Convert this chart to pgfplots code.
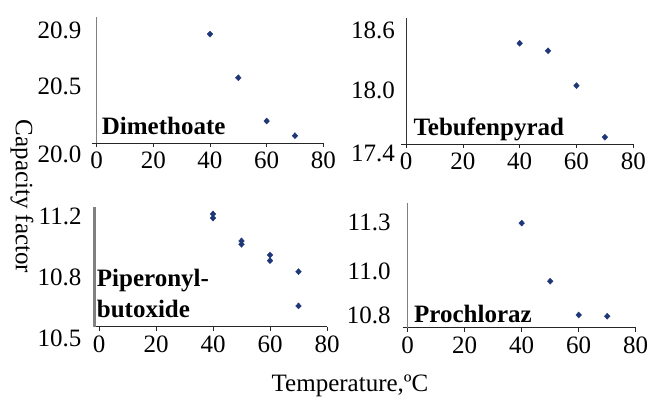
\documentclass[border=0pt]{standalone}
\usepackage{fontspec}
\setmainfont{Liberation Serif}
\usepackage{pgfplots}
\pgfplotsset{compat=1.18}
\definecolor{mk}{RGB}{30,55,120}
\definecolor{axgray}{RGB}{128,128,128}
\pgfplotsset{
  panel/.style={
    scale only axis,
    anchor=south west,
    axis x line=bottom,
    axis y line=left,
    xmin=0, xmax=80,
    xtick={0,20,40,60,80},
    tick align=outside,
    major tick length=4pt,
    ytick style={draw=none},
    xtick style={draw=black!85, line width=0.6pt},
    x axis line style={-, draw=black!85, line width=0.7pt, shorten <=-5pt},
    y axis line style={-, draw=axgray, line width=0.8pt},
    /pgf/number format/assume math mode=true,
    tick label style={font=\fontsize{25}{30}\selectfont},
    xticklabel style={inner sep=0pt, yshift=-5pt},
    yticklabel style={anchor=east, inner sep=0pt},
    clip=false,
  },
  pts/.style={only marks, mark=diamond*, mark size=3pt, color=mk, mark options={xscale=1.25}},
}
\begin{document}
\begin{tikzpicture}
\useasboundingbox (0,0) rectangle (657pt,397pt);
% Panel 1: Dimethoate
\begin{axis}[panel, at={(96.7pt,254pt)}, width=226.6pt, height=126pt,
  ymin=20.093, ymax=20.993,
  ytick={20.5,20.9}, yticklabels={20.5,20.9},
  extra y ticks={20.093}, extra y tick labels={20.0},
  extra y tick style={yticklabel style={yshift=-11pt}},
  yticklabel style={xshift=-11pt}]
\addplot[pts] coordinates {(40,20.871) (50,20.559) (60,20.25) (70,20.145)};
\end{axis}
% Panel 2: Tebufenpyrad
\begin{axis}[panel, at={(406pt,253pt)}, width=227.3pt, height=125.7pt,
  ymin=17.473, ymax=18.716,
  ytick={18.0,18.6}, yticklabels={18.0,18.6},
  extra y ticks={17.473}, extra y tick labels={17.4},
  extra y tick style={yticklabel style={yshift=-9.3pt}},
  y axis line style={-, draw=black!80, line width=0.7pt},
  yticklabel style={xshift=-7pt}]
\addplot[pts] coordinates {(40,18.469) (50,18.395) (60,18.05) (70,17.54)};
\end{axis}
% Panel 3: Piperonyl-butoxide
\begin{axis}[panel, at={(94.3pt,70.3pt)}, width=232.7pt, height=119.4pt,
  xmin=-1.65, xmax=80,
  x axis line style={-, draw=black!85, line width=0.7pt, shorten <=0pt},
  y axis line style={-, draw=axgray, line width=2.5pt},
  ymin=10.474, ymax=11.262,
  ytick={10.8,11.2}, yticklabels={10.8,11.2},
  extra y ticks={10.474}, extra y tick labels={10.5},
  extra y tick style={yticklabel style={yshift=-11.6pt}},
  yticklabel style={xshift=-8.6pt}]
\addplot[pts] coordinates {(40,11.218) (40,11.191) (50,11.04) (50,11.018) (60,10.947) (60,10.91) (70,10.837) (70,10.611)};
\end{axis}
% Panel 4: Prochloraz
\begin{axis}[panel, at={(407.7pt,69.3pt)}, width=228pt, height=124.7pt,
  ymin=10.731, ymax=11.407,
  ytick={10.8,11.035,11.3}, yticklabels={10.8,11.0,11.3},
  yticklabel style={xshift=-13pt}]
\addplot[pts] coordinates {(40,11.298) (50,10.983) (60,10.8) (70,10.793)};
\end{axis}
% Panel titles
\node[anchor=base west, inner sep=0pt, font=\fontsize{25}{30}\selectfont\bfseries] at (101.7pt,262pt) {Dimethoate};
\node[anchor=base west, inner sep=0pt, font=\fontsize{25}{30}\selectfont\bfseries] at (413.3pt,261pt) {Tebufenpyrad};
\node[anchor=base west, inner sep=0pt, font=\fontsize{25}{30}\selectfont\bfseries] at (96.7pt,110.3pt) {Piperonyl-};
\node[anchor=base west, inner sep=0pt, font=\fontsize{25}{30}\selectfont\bfseries] at (96.7pt,79.7pt) {butoxide};
\node[anchor=base west, inner sep=0pt, font=\fontsize{25}{30}\selectfont\bfseries] at (414pt,74.3pt) {Prochloraz};
% Axis titles
\node[rotate=-90, inner sep=0pt, font=\fontsize{25}{30}\selectfont] at (22pt,200.5pt) {Capacity factor};
\node[anchor=base, inner sep=0pt, font=\fontsize{25}{30}\selectfont] at (350pt,5.5pt) {Temperature,ºC};
\end{tikzpicture}
\end{document}
